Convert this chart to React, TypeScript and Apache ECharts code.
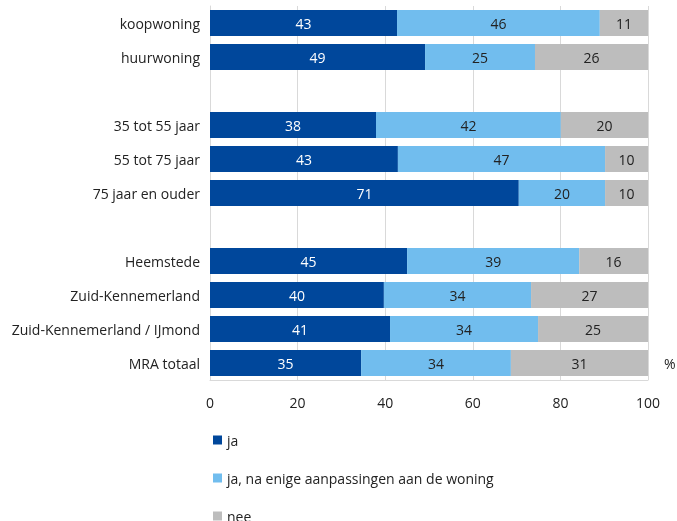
import React, { useEffect, useRef } from "react";
import * as echarts from "echarts";

const categories = [
  "koopwoning",
  "huurwoning",
  " ",
  "35 tot 55 jaar",
  "55 tot 75 jaar",
  "75 jaar en ouder",
  "  ",
  "Heemstede",
  "Zuid-Kennemerland",
  "Zuid-Kennemerland / IJmond",
  "MRA totaal",
];
const jaValues = [42.7, 49.1, null, 37.9, 42.9, 70.5, null, 45.0, 39.7, 41.1, 34.5];
const naValues = [46.3, 25.1, null, 42.2, 47.3, 19.7, null, 39.3, 33.6, 33.8, 34.2];
const neeValues = [11.0, 25.8, null, 19.9, 9.8, 9.8, null, 15.7, 26.7, 25.1, 31.3];
const seriesNames = ["ja", "ja, na enige aanpassingen aan de woning", "nee"];
const xTicks = { min: 0, max: 100, interval: 20 };

const FONT = "Open Sans";
const FS = 14;

export default function App() {
  const ref = useRef<HTMLDivElement>(null);
  useEffect(() => {
    if (!ref.current) return;
    const chart = echarts.init(ref.current, null, { renderer: "svg" });
    const label = (color: string) => ({
      show: true,
      position: "inside",
      color,
      fontSize: FS,
      fontFamily: FONT,
      formatter: (p: any) => (p.value == null ? "" : String(Math.round(p.value))),
    });
    chart.setOption({
      animation: false,
      textStyle: { fontFamily: FONT },
      grid: { left: 210, right: 29, top: 6, bottom: 141 },
      graphic: [
        {
          type: "text",
          x: 664,
          y: 356,
          style: { text: "%", fontSize: FS, fontFamily: FONT, fill: "#222" },
        },
      ],
      legend: {
        orient: "vertical",
        left: 208,
        top: 428,
        height: 150,
        itemGap: 24,
        itemWidth: 9,
        itemHeight: 9,
        icon: "rect",
        textStyle: { fontSize: FS, color: "#222", fontFamily: FONT },
        data: seriesNames,
      },
      xAxis: {
        type: "value",
        min: xTicks.min,
        max: xTicks.max,
        interval: xTicks.interval,
        axisLine: { show: true, lineStyle: { color: "#D9D9D9" } },
        axisTick: { show: false },
        splitLine: { show: true, lineStyle: { color: "#D9D9D9" } },
        axisLabel: { color: "#222", fontSize: FS, margin: 15, fontFamily: FONT },
      },
      yAxis: {
        type: "category",
        inverse: true,
        data: categories,
        axisLine: { show: true, lineStyle: { color: "#D9D9D9" } },
        axisTick: { show: false },
        axisLabel: { color: "#222", fontSize: FS, margin: 10, fontFamily: FONT },
      },
      series: [
        {
          name: seriesNames[0],
          type: "bar",
          stack: "total",
          data: jaValues,
          barCategoryGap: "24%",
          itemStyle: { color: "#00479B" },
          label: label("#FFFFFF"),
        },
        {
          name: seriesNames[1],
          type: "bar",
          stack: "total",
          data: naValues,
          itemStyle: { color: "#71BDEE" },
          label: label("#222"),
        },
        {
          name: seriesNames[2],
          type: "bar",
          stack: "total",
          data: neeValues,
          itemStyle: { color: "#BDBDBD" },
          label: label("#222"),
        },
      ],
    });
    return () => chart.dispose();
  }, []);
  return (
    <div
      ref={ref}
      style={{ position: "fixed", left: 0, top: 0, width: 677, height: 521, overflow: "hidden" }}
    />
  );
}
